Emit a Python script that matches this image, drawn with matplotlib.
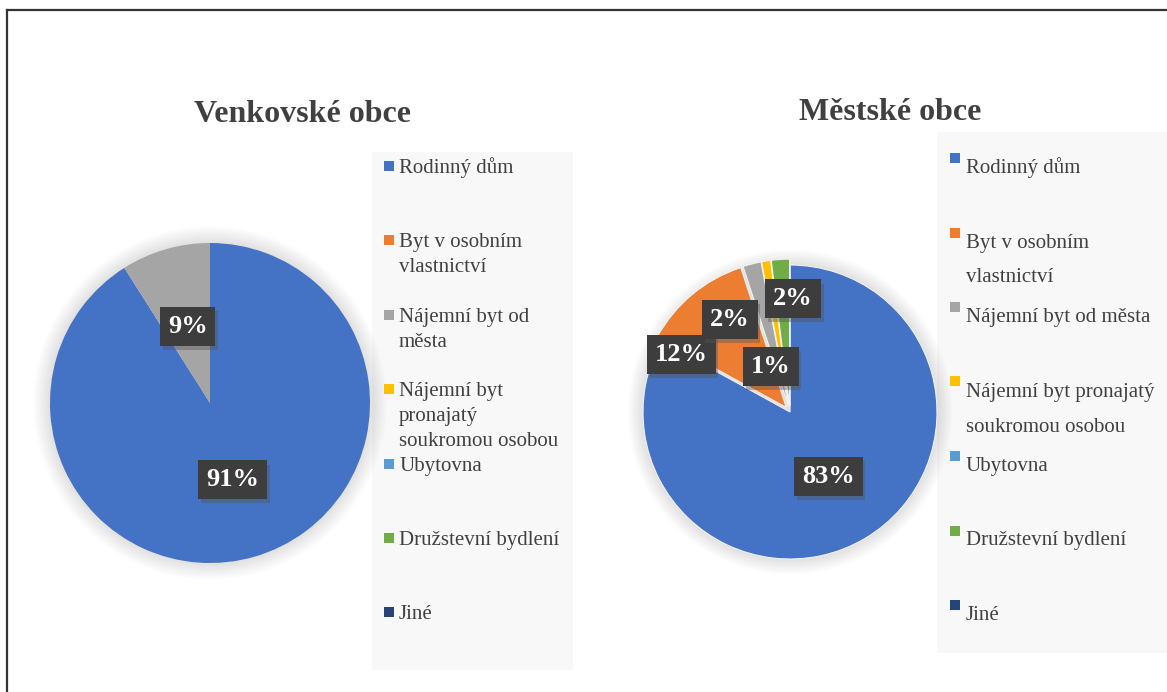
import numpy as np
import matplotlib
matplotlib.use("Agg")
import matplotlib.pyplot as plt
from matplotlib.patches import Rectangle, Circle
from matplotlib import patheffects

# data
categories = [
    "Rodinný dům",
    "Byt v osobním\nvlastnictví",
    "Nájemní byt od\nměsta",
    "Nájemní byt\npronajatý\nsoukromou osobou",
    "Ubytovna",
    "Družstevní bydlení",
    "Jiné",
]
categories_mest = [
    "Rodinný dům",
    "Byt v osobním\nvlastnictví",
    "Nájemní byt od města",
    "Nájemní byt pronajatý\nsoukromou osobou",
    "Ubytovna",
    "Družstevní bydlení",
    "Jiné",
]
colors = ["#4472C4", "#ED7D31", "#A5A5A5", "#FFC000", "#5B9BD5", "#70AD47", "#264478"]

venkov = [91, 0, 9, 0, 0, 0, 0]
mesto = [83, 12, 2, 1, 0, 2, 0]

titles = ["Venkovské obce", "Městské obce"]

# label positions for the city pie (Excel placed them by hand)
mesto_label_pos = [(0.26, -0.44), (-0.74, 0.39), (-0.41, 0.63), (-0.13, 0.31), None, (0.02, 0.77), None]

W, H = 1167, 692
plt.rcParams["font.family"] = ["Liberation Serif", "DejaVu Serif"]
fig = plt.figure(figsize=(W / 100, H / 100), dpi=100)


def fx(x):
    return x / W


def fy(y):
    return 1 - y / H


def pie_axes(cx, cy, r):
    ax = fig.add_axes([fx(cx - r), fy(cy + r), 2 * r / W, 2 * r / H])
    ax.axis("off")
    # soft shadow round the pie
    for k in range(16):
        ax.add_patch(Circle((0, 0), 1.0 + 0.007 * k, color="#808080", alpha=0.014,
                            lw=0, zorder=0, clip_on=False))
    return ax


def fix_limits(ax):
    ax.set_xlim(-1, 1)
    ax.set_ylim(-1, 1)
    ax.set_aspect("equal")


def style_label(t):
    t.set_color("white")
    t.set_fontweight("bold")
    t.set_fontsize(19)
    t.set_bbox(dict(boxstyle="square,pad=0.3", fc="#3d3d3d", ec="none"))
    t.get_bbox_patch().set_path_effects([
        patheffects.SimplePatchShadow(offset=(2, -3), shadow_rgbFace="#555555", alpha=0.4),
        patheffects.Normal()])


def pct(p):
    return "%d%%" % round(p) if p > 0.5 else ""


# left pie
ax1 = pie_axes(210, 403, 160)
w1, t1, a1 = ax1.pie(venkov, colors=colors, startangle=90, counterclock=False,
                     autopct=pct, pctdistance=0.5, radius=1,
                     wedgeprops=dict(linewidth=0))
fix_limits(ax1)
for t in a1:
    if t.get_text():
        style_label(t)

# right pie
ax2 = pie_axes(790, 412, 147)
explode = [0 if i == 0 else 0.04 for i in range(len(mesto))]
w2, t2, a2 = ax2.pie(mesto, colors=colors, startangle=90, counterclock=False,
                     autopct=pct, pctdistance=0.5, radius=1, explode=explode,
                     wedgeprops=dict(linewidth=0.8, edgecolor="#f2f2f2"))
fix_limits(ax2)
for t, pos in zip(a2, mesto_label_pos):
    if t.get_text():
        t.set_position(pos)
        style_label(t)

# titles
fig.text(fx(303), fy(122), titles[0], ha="center", va="baseline",
         fontsize=23, fontweight="bold", color="#404040")
fig.text(fx(890), fy(120), titles[1], ha="center", va="baseline",
         fontsize=23, fontweight="bold", color="#404040")


def legend(x0, y0, x1, y1, labels, mx, tx, first_y, step, base_off, line_h):
    fig.add_artist(Rectangle((fx(x0), fy(y1)), (x1 - x0) / W, (y1 - y0) / H,
                             transform=fig.transFigure, fc="#f8f8f8", ec="none", zorder=0))
    for i, lab in enumerate(labels):
        cy = first_y + i * step
        fig.add_artist(Rectangle((fx(mx), fy(cy + 5)), 10 / W, 10 / H,
                                 transform=fig.transFigure, fc=colors[i], ec="none"))
        for j, line in enumerate(lab.split("\n")):
            fig.text(fx(tx), fy(cy + base_off + j * line_h), line, ha="left",
                     va="baseline", fontsize=15, color="#404040")


legend(372, 152, 573, 670, categories, 384, 399, 166, 74.4, 7, 25)
legend(937, 132, 1167, 653, categories_mest, 950, 966, 158, 74.5, 15, 35)

# frame (only top and left edges show)
fig.add_artist(plt.Line2D([fx(7), 1], [fy(10), fy(10)], transform=fig.transFigure,
                          color="#333333", lw=1.6))
fig.add_artist(plt.Line2D([fx(7), fx(7)], [fy(10), 0], transform=fig.transFigure,
                          color="#333333", lw=1.6))

fig.savefig("out.png", dpi=100)
